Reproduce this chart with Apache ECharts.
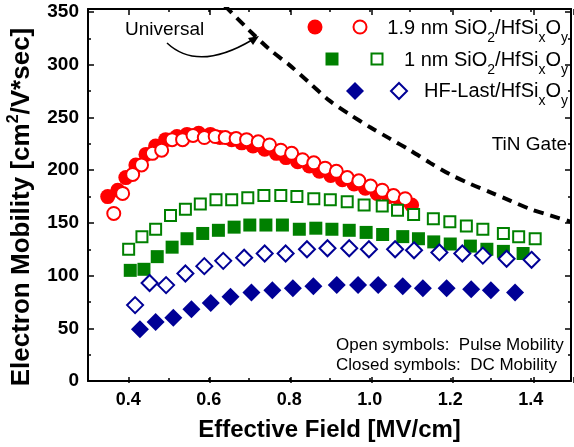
<!DOCTYPE html>
<html><head><meta charset="utf-8">
<script src="https://cdn.jsdelivr.net/npm/echarts@6/dist/echarts.min.js"></script>
<style>html,body{margin:0;padding:0;background:#fff}#c{width:574px;height:447px}</style>
</head><body><div id="c"></div>
<script>
// ---- data ----
const xTickLabels = ['0.4','0.6','0.8','1.0','1.2','1.4'];
const yTickLabels = ['0','50','100','150','200','250','300','350'];

const redDcX = [0.349,0.374,0.394,0.419,0.444,0.468,0.493,0.521,0.546,0.575,0.604,0.628,0.657,0.682,0.710,0.739,0.768,0.792,0.821,0.850,0.875,0.903,0.932,0.961,0.989,1.018,1.047,1.076,1.104];
const redDcY = [175,181,193,205,215,223,229,232,234,235,234,231,229,226,223,220,216,212,208,204,199,195,191,187,183,178,175,171,167];
const redPulseX = [0.364,0.386,0.411,0.433,0.460,0.483,0.509,0.535,0.561,0.589,0.616,0.641,0.668,0.694,0.723,0.751,0.779,0.806,0.833,0.861,0.889,0.917,0.944,0.973,1.002,1.031,1.059,1.088];
const redPulseY = [159,178,196,205,216,219,229,229,233,231,232,231,230,229,227,224,219,216,210,207,202,199,193,190,185,181,176,173];

const greenDcX = [0.405,0.439,0.472,0.509,0.546,0.585,0.624,0.663,0.702,0.742,0.783,0.825,0.866,0.906,0.949,0.991,1.032,1.082,1.121,1.159,1.200,1.250,1.291,1.332,1.381];
const greenDcY = [105,106,118,127,135,140,143,146,148,148,148,144,145,144,143,141,139,137,135,132,130,128,125,123,121];
const greenPulseX = [0.401,0.434,0.468,0.505,0.542,0.579,0.618,0.657,0.697,0.737,0.779,0.819,0.861,0.902,0.944,0.986,1.031,1.069,1.109,1.158,1.199,1.240,1.281,1.332,1.370,1.411];
const greenPulseY = [125,137,144,157,163,168,172,172,174,176,176,175,173,172,170,167,166,162,158,154,151,147,144,140,137,135];

const blueDcX = [0.429,0.468,0.512,0.557,0.605,0.654,0.706,0.758,0.809,0.860,0.918,0.971,1.021,1.082,1.132,1.191,1.252,1.301,1.361];
const blueDcY = [49,56,60,68,74,80,84,86,88,90,91,91,91,90,88,88,87,86,84];
const bluePulseX = [0.417,0.453,0.494,0.542,0.589,0.636,0.688,0.739,0.791,0.844,0.895,0.949,0.998,1.063,1.110,1.173,1.230,1.281,1.340,1.402];
const bluePulseY = [72,93,91,102,109,114,117,121,121,125,126,126,125,125,124,122,121,119,116,115];

const universalX = [0.64,0.70,0.75,0.80,0.85,0.90,0.95,1.00,1.05,1.10,1.15,1.20,1.25,1.30,1.35,1.40,1.45,1.50];
const universalY = [356,333,315,300,283,266,253,241,230,219,207,196,187,179,171,163,157,151];

// ---- layout ----
const FONT = '"Liberation Sans", Arial, Helvetica, sans-serif';
const W = 574, H = 447;
const L = 88, R = 0, T = 9, B = 64;
const X0 = 0.3, X1 = 1.5, Y0 = 0, Y1 = 353;
const plotW = W - L - R;
const majorLeft = L + (0.4 - X0) / (X1 - X0) * plotW;

const RED = '#ff0000', GREEN = '#008000', BLUE = '#000096';
const pairs = (xs, ys) => xs.map((x, i) => [x, ys[i]]);

const chart = echarts.init(document.getElementById('c'), null, {renderer: 'canvas'});

const lineStyleAxis = {color: '#000', width: 2};
function xAxisCfg(grid, pos, min, interval, tickLen, showLine, showLabel) {
  return {
    type: 'value', gridIndex: grid, position: pos, min: min, max: X1, interval: interval,
    axisLine: {show: showLine, onZero: false, lineStyle: lineStyleAxis},
    axisTick: {show: true, inside: true, length: tickLen, lineStyle: {color: '#000', width: 1.5}},
    axisLabel: showLabel ? {
      show: true, margin: 10, color: '#000', fontSize: 18, fontWeight: 'bold', fontFamily: FONT,
      formatter: v => { const s = (Math.round(v * 10) / 10).toFixed(1); return xTickLabels.includes(s) ? s : ''; }
    } : {show: false},
    splitLine: {show: false}
  };
}
function yAxisCfg(pos, showLabel) {
  return {
    type: 'value', gridIndex: 0, position: pos, min: Y0, max: Y1, interval: 50,
    axisLine: {show: true, onZero: false, lineStyle: lineStyleAxis},
    axisTick: {show: true, inside: true, length: 6, lineStyle: {color: '#000', width: 1.5}},
    minorTick: {show: true, splitNumber: 2, length: 3, lineStyle: {color: '#000', width: 1.5}},
    axisLabel: showLabel ? {
      show: true, margin: 9, color: '#000', fontSize: 19, fontWeight: 'bold', fontFamily: FONT,
      formatter: v => yTickLabels.includes(String(v)) ? String(v) : ''
    } : {show: false},
    splitLine: {show: false}, minorSplitLine: {show: false}
  };
}

const xBottom = xAxisCfg(0, 'bottom', X0, 0.1, 3, true, true);
xBottom.name = 'Effective Field [MV/cm]';
xBottom.nameLocation = 'middle';
xBottom.nameGap = 37;
xBottom.nameTextStyle = {color: '#000', fontSize: 24, fontWeight: 'bold', fontFamily: FONT};

const subRich = {
  a: {fontSize: 20, fontFamily: FONT, lineHeight: 34, fill: '#000', color: '#000'},
  s: {fontSize: 14, fontFamily: FONT, lineHeight: 14, verticalAlign: 'bottom', fill: '#000', color: '#000'}
};
function txt(x, y, text, size, align, extra) {
  return Object.assign({
    type: 'text', x: x, y: y, z: 100,
    style: {text: text, fontSize: size, fontFamily: FONT, fill: '#000',
            align: align, verticalAlign: 'middle', textAlign: align, textVerticalAlign: 'middle'}
  }, extra || {});
}
function richTxt(x, y, text) {
  return {
    type: 'text', x: x, y: y, z: 100,
    style: {text: text, rich: subRich, fontSize: 20, fontFamily: FONT, fill: '#000',
            align: 'right', verticalAlign: 'middle', textAlign: 'right', textVerticalAlign: 'middle'}
  };
}
function diamond(cx, cy, h) { return [[cx, cy - h], [cx + h, cy], [cx, cy + h], [cx - h, cy]]; }

const graphics = [
  // y-axis title
  {
    type: 'text', x: 22, y: 207, rotation: Math.PI / 2, z: 100,
    style: {
      text: '{a|Electron Mobility [cm}{p|2}{a|/V*sec]}',
      rich: {
        a: {fontSize: 26, fontWeight: 'bold', fontFamily: FONT, lineHeight: 32, fill: '#000', color: '#000'},
        p: {fontSize: 16, fontWeight: 'bold', fontFamily: FONT, lineHeight: 16, verticalAlign: 'top', fill: '#000', color: '#000'}
      },
      align: 'center', verticalAlign: 'middle', textAlign: 'center', textVerticalAlign: 'middle'
    }
  },
  // legend symbols
  {type: 'circle', z: 100, shape: {cx: 315, cy: 27, r: 7.5}, style: {fill: RED}},
  {type: 'circle', z: 100, shape: {cx: 360, cy: 27, r: 6.5}, style: {fill: '#fff', stroke: RED, lineWidth: 2}},
  {type: 'rect', z: 100, shape: {x: 325.5, y: 52.5, width: 13, height: 13}, style: {fill: GREEN}},
  {type: 'rect', z: 100, shape: {x: 371.5, y: 53.5, width: 11, height: 11}, style: {fill: '#fff', stroke: GREEN, lineWidth: 2}},
  {type: 'polygon', z: 100, shape: {points: diamond(355, 91, 9)}, style: {fill: BLUE}},
  {type: 'polygon', z: 100, shape: {points: diamond(399, 91, 8)}, style: {fill: '#fff', stroke: BLUE, lineWidth: 2}},
  // legend texts
  richTxt(568, 28, '{a|1.9 nm SiO}{s|2}{a|/HfSi}{s|x}{a|O}{s|y}'),
  richTxt(568, 60, '{a|1 nm SiO}{s|2}{a|/HfSi}{s|x}{a|O}{s|y}'),
  richTxt(568, 91, '{a|HF-Last/HfSi}{s|x}{a|O}{s|y}'),
  // annotations
  txt(125, 30, 'Universal', 19, 'left'),
  txt(567, 145, 'TiN Gate', 19, 'right'),
  txt(336, 345, 'Open symbols:  Pulse Mobility', 17, 'left'),
  txt(336, 365, 'Closed symbols:  DC Mobility', 17, 'left'),
  // arrow
  {type: 'bezierCurve', z: 100, shape: {x1: 167, y1: 43, x2: 252, y2: 40, cpx1: 198, cpy1: 72}, style: {stroke: '#000', lineWidth: 1.5, fill: null}},
  {type: 'polygon', z: 100, shape: {points: [[259, 36], [248, 38], [253, 45]]}, style: {fill: '#000'}}
];

function scatter(name, xs, ys, symbol, size, color, open, z) {
  return {
    type: 'scatter', name: name, data: pairs(xs, ys), symbol: symbol, symbolSize: size,
    xAxisIndex: 0, yAxisIndex: 0, z: z, silent: true,
    itemStyle: open ? {color: '#fff', borderColor: color, borderWidth: 2, opacity: 1}
                    : {color: color, opacity: 1}
  };
}

chart.setOption({
  animation: false,
  backgroundColor: '#fff',
  grid: [
    {left: L, right: R, top: T, bottom: B, containLabel: false},
    {left: majorLeft, right: R, top: T, bottom: B, containLabel: false}
  ],
  xAxis: [
    xBottom,
    xAxisCfg(0, 'top', X0, 0.1, 3, true, false),
    xAxisCfg(1, 'bottom', 0.4, 0.2, 6, false, false),
    xAxisCfg(1, 'top', 0.4, 0.2, 6, false, false)
  ],
  yAxis: [
    yAxisCfg('left', true),
    yAxisCfg('right', false),
    {type: 'value', gridIndex: 1, min: Y0, max: Y1, show: false}
  ],
  graphic: graphics,
  series: [
    {
      type: 'line', name: 'Universal', data: pairs(universalX, universalY), xAxisIndex: 0, yAxisIndex: 0,
      symbol: 'none', showSymbol: false, smooth: 0.3, silent: true, z: 2, clip: true,
      lineStyle: {color: '#000', width: 4, type: [10, 7]}
    },
    scatter('1.9 nm SiO2/HfSixOy DC', redDcX, redDcY, 'circle', 15, RED, false, 3),
    scatter('1.9 nm SiO2/HfSixOy Pulse', redPulseX, redPulseY, 'circle', 13, RED, true, 4),
    scatter('1 nm SiO2/HfSixOy DC', greenDcX, greenDcY, 'rect', 13, GREEN, false, 5),
    scatter('1 nm SiO2/HfSixOy Pulse', greenPulseX, greenPulseY, 'rect', 11, GREEN, true, 6),
    scatter('HF-Last/HfSixOy DC', blueDcX, blueDcY, 'diamond', 18, BLUE, false, 7),
    scatter('HF-Last/HfSixOy Pulse', bluePulseX, bluePulseY, 'diamond', 16, BLUE, true, 8)
  ]
});
</script>
</body></html>
